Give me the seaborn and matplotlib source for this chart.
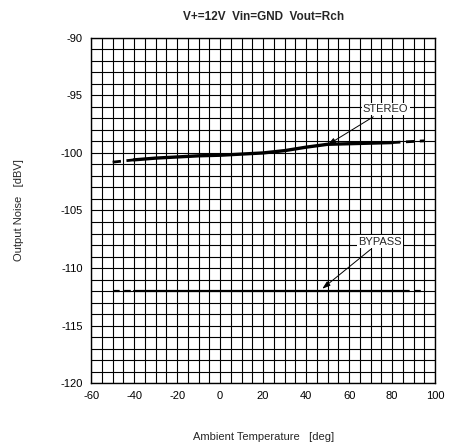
import numpy as np
import pandas as pd
import matplotlib
matplotlib.use("Agg")
import matplotlib.pyplot as plt
import seaborn as sns

# datos
temp_stereo = [-50, -40, -30, -20, -10, 0, 10, 20, 30, 40, 50, 60, 70, 80, 85, 95]
noise_stereo = [-100.8, -100.6, -100.45, -100.35, -100.25, -100.2, -100.1, -100.0, -99.8, -99.5, -99.25, -99.2, -99.15, -99.1, -99.05, -98.95]
temp_bypass = [-50, -40, 85, 95]
noise_bypass = [-112.0, -112.0, -112.0, -112.0]

sns.set_theme(style="white")
plt.rcParams['font.family'] = ['Liberation Sans', 'DejaVu Sans']
plt.rcParams['axes.unicode_minus'] = False

fig, ax = plt.subplots(figsize=(4.49, 4.45), dpi=100)
fig.subplots_adjust(left=0.203, right=0.969, top=0.915, bottom=0.139)

df_s = pd.DataFrame({"t": temp_stereo, "n": noise_stereo})
df_b = pd.DataFrame({"t": temp_bypass, "n": noise_bypass})

# partes solidas y discontinuas
sns.lineplot(data=df_s.iloc[1:-2], x="t", y="n", ax=ax, color="black", lw=2.4)
sns.lineplot(data=df_s.iloc[:2], x="t", y="n", ax=ax, color="black", lw=2.0, linestyle=(0, (3, 2)))
sns.lineplot(data=df_s.iloc[-3:], x="t", y="n", ax=ax, color="black", lw=2.0, linestyle=(0, (3, 2)))
sns.lineplot(data=df_b.iloc[1:3], x="t", y="n", ax=ax, color="black", lw=1.6)
sns.lineplot(data=df_b.iloc[:2], x="t", y="n", ax=ax, color="black", lw=1.6, linestyle=(0, (3, 2)))
sns.lineplot(data=df_b.iloc[2:], x="t", y="n", ax=ax, color="black", lw=1.6, linestyle=(0, (3, 2)))

ax.set_xlim(-60, 100)
ax.set_ylim(-120, -90)
ax.set_xticks(np.arange(-60, 101, 20))
ax.set_yticks(np.arange(-120, -89, 5))
ax.set_xticks(np.arange(-60, 101, 5), minor=True)
ax.set_yticks(np.arange(-120, -89, 1), minor=True)
ax.grid(which="both", color="black", lw=0.8)
ax.set_axisbelow(True)
ax.tick_params(which="both", length=0, labelsize=8, colors="black", pad=6)
for s in ax.spines.values():
    s.set_color("black")
    s.set_linewidth(1.0)

ax.set_title("V+=12V  Vin=GND  Vout=Rch", fontsize=8.5, fontweight="bold", pad=13)
ax.set_xlabel("Ambient Temperature   [deg]", fontsize=8, labelpad=22)
ax.set_ylabel("Output Noise   [dBV]", fontsize=8, labelpad=26)

arrow = dict(arrowstyle="-|>,head_length=0.6,head_width=0.2", color="black", lw=0.7,
             shrinkA=2, shrinkB=0)
ax.annotate("STEREO", xy=(50, -99.3), xytext=(77, -96.2), fontsize=8, ha="center", va="center",
            bbox=dict(boxstyle="square,pad=0.1", fc="white", ec="none"), arrowprops=arrow)
ax.annotate("BYPASS", xy=(47.5, -111.8), xytext=(74.5, -107.7), fontsize=8, ha="center", va="center",
            bbox=dict(boxstyle="square,pad=0.1", fc="white", ec="none"), arrowprops=arrow)

fig.savefig("out.png", dpi=100, facecolor="white")
